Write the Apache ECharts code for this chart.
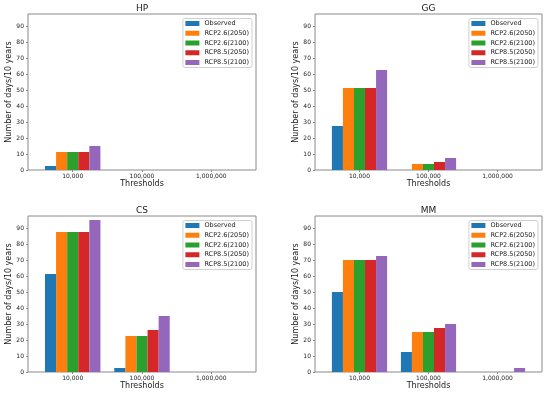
<!DOCTYPE html>
<html>
<head>
<meta charset="utf-8">
<script src="https://cdn.jsdelivr.net/npm/echarts@6/dist/echarts.min.js"></script>
<style>html,body{margin:0;padding:0;background:#fff;}#c{width:547px;height:393px;}</style>
</head>
<body>
<div id="c"></div>
<script>
const thresholds = ['10,000', '100,000', '1,000,000'];
const seriesNames = ['Observed', 'RCP2.6(2050)', 'RCP2.6(2100)', 'RCP8.5(2050)', 'RCP8.5(2100)'];
const colors = ['#1f77b4', '#ff7f0e', '#2ca02c', '#d62728', '#9467bd'];
const panelTitles = ['HP', 'GG', 'CS', 'MM'];
const yTicks = [0, 10, 20, 30, 40, 50, 60, 70, 80, 90];

// values per panel: one list per series, one value per threshold
const hpData = [[2.5, 0, 0], [11.25, 0, 0], [11.25, 0, 0], [11.25, 0, 0], [15, 0, 0]];
const ggData = [[27.5, 0, 0], [51.25, 3.75, 0], [51.25, 3.75, 0], [51.25, 5, 0], [62.5, 7.5, 0]];
const csData = [[61.25, 2.5, 0], [87.5, 22.5, 0], [87.5, 22.5, 0], [87.5, 26.25, 0], [95, 35, 0]];
const mmData = [[50, 12.5, 0], [70, 25, 0], [70, 25, 0], [70, 27.5, 0], [72.5, 30, 2.5]];
const panelData = [hpData, ggData, csData, mmData];

const grids = [
  {left: 28, top: 14, width: 228, height: 156},
  {left: 315, top: 14, width: 227, height: 156},
  {left: 28, top: 216, width: 228, height: 156},
  {left: 315, top: 216, width: 227, height: 156}
];
const FONT = 'DejaVu Sans';
const TXT = '#1a1a1a';
const FRAME = '#8a8a8a';
const BARW = 0.16;

const option = {
  animation: false,
  backgroundColor: '#fff',
  title: [], grid: [], xAxis: [], yAxis: [], legend: [], series: []
};

grids.forEach((g, p) => {
  option.grid.push(Object.assign({show: true, borderColor: FRAME, borderWidth: 1, backgroundColor: 'transparent'}, g));
  option.title.push({
    text: panelTitles[p], left: g.left + g.width / 2, top: g.top - 10.8, textAlign: 'center', padding: 0,
    textStyle: {fontFamily: FONT, fontSize: 9, fontWeight: 'normal', color: TXT, lineHeight: 10}
  });
  option.xAxis.push({
    type: 'value', gridIndex: p, min: -0.645, max: 2.645, position: 'bottom',
    name: 'Thresholds', nameLocation: 'middle', nameGap: 10,
    nameTextStyle: {fontFamily: FONT, fontSize: 8, color: TXT},
    axisLine: {show: false, onZero: false}, splitLine: {show: false},
    axisTick: {show: true, length: 2, lineStyle: {color: FRAME}, customValues: [0, 1, 2]},
    axisLabel: {customValues: [0, 1, 2], margin: 3, fontFamily: FONT, fontSize: 6, color: TXT,
      formatter: v => thresholds[Math.round(v)]}
  });
  option.yAxis.push({
    type: 'value', gridIndex: p, min: 0, max: 97.5, position: 'left',
    name: 'Number of days/10 years', nameLocation: 'middle', nameGap: 12,
    nameTextStyle: {fontFamily: FONT, fontSize: 8, color: TXT},
    axisLine: {show: false, onZero: false}, splitLine: {show: false},
    axisTick: {show: true, length: 2, lineStyle: {color: FRAME}, customValues: yTicks},
    axisLabel: {customValues: yTicks, margin: 4, fontFamily: FONT, fontSize: 6, color: TXT}
  });
  option.legend.push({
    orient: 'vertical', right: 547 - (g.left + g.width) + 4, top: g.top + 4.5,
    data: seriesNames.map((n, k) => ({name: n, icon: 'rect', itemStyle: {color: colors[k]}})),
    itemWidth: 14, itemHeight: 5, itemGap: 1.75,
    padding: [1, 3, 1, 2.5],
    backgroundColor: 'rgba(255,255,255,0.8)', borderColor: '#d0d0d0', borderWidth: 1, borderRadius: 2,
    textStyle: {fontFamily: FONT, fontSize: 6.5, color: TXT, lineHeight: 8, padding: [0, 0, 0, 0]},
    selectedMode: false
  });
  seriesNames.forEach((name, k) => {
    const vals = panelData[p][k];
    option.series.push({
      type: 'custom', name: name, xAxisIndex: p, yAxisIndex: p,
      itemStyle: {color: colors[k]},
      data: thresholds.map((t, i) => [i, vals[i]]),
      encode: {x: 0, y: 1},
      renderItem: (params, api) => {
        const x = api.value(0), y = api.value(1);
        const off = (k - 2) * BARW;
        const a = api.coord([x + off - BARW / 2, y]);
        const b = api.coord([x + off + BARW / 2, 0]);
        return {type: 'rect', shape: {x: a[0], y: a[1], width: b[0] - a[0], height: b[1] - a[1]},
          style: {fill: colors[k]}};
      }
    });
  });
});

const chart = echarts.init(document.getElementById('c'), null, {renderer: 'canvas'});
chart.setOption(option);
</script>
</body>
</html>
